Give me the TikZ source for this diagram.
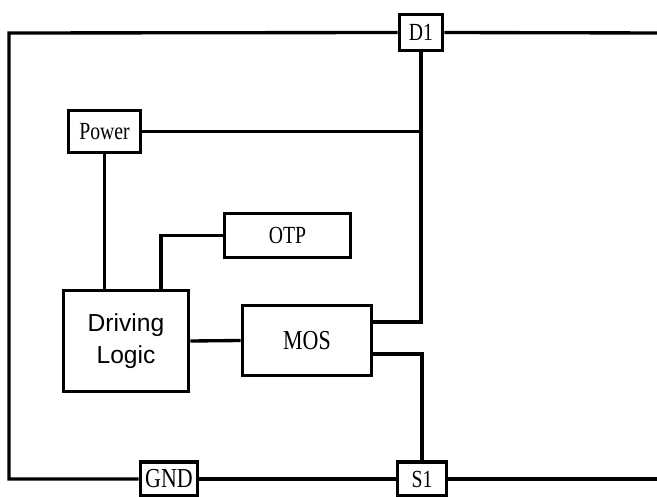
\documentclass[tikz,border=0pt]{standalone}
\usepackage{fontspec}
\setmainfont{Liberation Serif}
\newfontfamily\songfont[FakeStretch=0.8]{Liberation Serif}
\newfontfamily\arialfont{Liberation Sans}
\usetikzlibrary{positioning}

\begin{document}
\begin{tikzpicture}[x=0.01cm, y=-0.01cm,
  blk/.style={draw=black, line width=1.1pt, fill=white, inner sep=0,
    font=\songfont\fontsize{7pt}{8pt}\selectfont},
  pin/.style={blk},
  big/.style={blk, font=\songfont\fontsize{7.8pt}{9pt}\selectfont},
  logic/.style={blk, align=center, font=\arialfont\fontsize{7pt}{9.1pt}\selectfont},
  wire/.style={draw=black, line width=0.95pt}]
\clip (0,0) rectangle (657,497);
% pins
\node[pin] (D1)  at (421,32.5)  [minimum width=0.43cm, minimum height=0.36cm] {D1};
\node[big] (GND) at (169,479)   [minimum width=0.57cm, minimum height=0.34cm] {GND};
\node[pin] (S1)  at (422,479)   [minimum width=0.49cm, minimum height=0.34cm] {S1};
% blocks
\node[blk]   (Pwr) at (104.5,131.5) [minimum width=0.72cm, minimum height=0.42cm] {Power};
\node[blk]   (OTP) at (287.5,235.5) [minimum width=1.26cm, minimum height=0.44cm] {OTP};
\node[logic] (Drv) at (126,341)     [minimum width=1.25cm, minimum height=1.01cm] {Driving\\Logic};
\node[big]   (MOS) at (307,340.5)   [minimum width=1.29cm, minimum height=0.70cm] {MOS};
\coordinate (tl) at (9,33);
\coordinate (bl) at (9,479);
\coordinate (tr) at (665,33);
\coordinate (br) at (665,479);
\coordinate (mu) at (421,322);
\coordinate (ml) at (422,354);
\coordinate (ok) at (161,235.5);
% outer loop
\draw[wire] (D1.west) -- (tl) -- (bl) -- (GND.west);
\draw[wire] (D1.east) -- (tr);
\draw[wire] (GND.east) -- (S1.west);
\draw[wire] (S1.east) -- (br);
% inner wiring
\draw[wire] (D1.south) -- (mu) -- (MOS.east |- mu);
\draw[wire] (Pwr.east) -- (Pwr.east -| mu);
\draw[wire] (Pwr.south) -- (Pwr.south |- Drv.north);
\draw[wire] (OTP.west) -- (ok) -- (ok |- Drv.north);
\draw[wire] (Drv.east) -- (MOS.west);
\draw[wire] (MOS.east |- ml) -- (ml) -- (S1.north);
\end{tikzpicture}
\end{document}
